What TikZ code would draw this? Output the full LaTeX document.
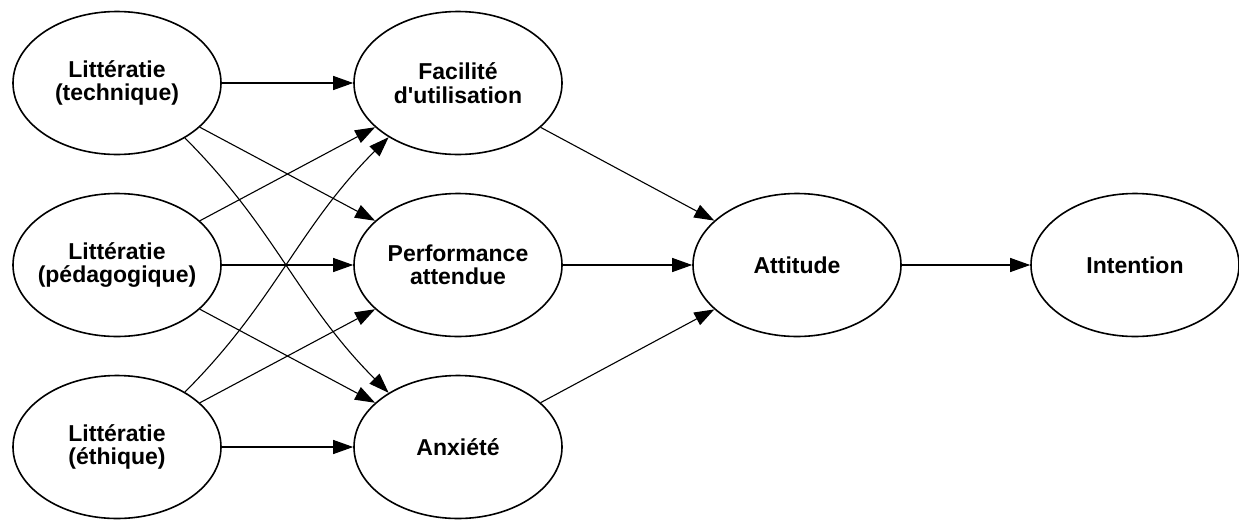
\documentclass[tikz,border=0pt]{standalone}
\usepackage{fontspec}
\setmainfont{Liberation Sans}[Ligatures=TeXOff]
\usetikzlibrary{shapes.geometric,arrows.meta}
% centred line of zero width, so the ellipse keeps its fixed size
\newcommand{\zline}[1]{\makebox[0pt]{#1}}
\begin{document}
\begin{tikzpicture}[x=1pt,y=1pt,
  construct/.style={ellipse, draw, line width=1.6pt, fill=white,
    minimum width=208pt, minimum height=143pt, inner sep=0pt,
    align=center, font=\fontsize{23}{23.5}\selectfont\bfseries},
  link/.style={line width=1.1pt, -{Triangle[length=20pt,width=14pt]}},
]
\useasboundingbox (0,0) rectangle (1239,-520);

% literacy dimensions
\node[construct] (tech) at (117,-83)  {\zline{Littératie}\\\zline{(technique)}};
\node[construct] (peda) at (117,-265) {\zline{Littératie}\\\zline{(pédagogique)}};
\node[construct] (eth)  at (117,-447) {\zline{Littératie}\\\zline{(éthique)}};

% perceptions
\node[construct] (fac)  at (458,-83)  {\zline{Facilité}\\\zline{d'utilisation}};
\node[construct] (perf) at (458,-265) {\zline{Performance}\\\zline{attendue}};
\node[construct] (anx)  at (458,-447) {Anxiété};

% outcomes
\node[construct] (att)  at (797,-265) {Attitude};
\node[construct] (int)  at (1135,-265) {Intention};

% literacy -> perceptions
\draw[link] (tech) -- (fac);
\draw[link] (tech) -- (perf);
\draw[link] (tech.-39) to[out=-45,in=135] (anx.142);
\draw[link] (peda) -- (fac);
\draw[link] (peda) -- (perf);
\draw[link] (peda) -- (anx);
\draw[link] (eth.39) to[out=45,in=-135] (fac.-142);
\draw[link] (eth) -- (perf);
\draw[link] (eth) -- (anx);

% perceptions -> attitude -> intention
\draw[link] (fac) -- (att);
\draw[link] (perf) -- (att);
\draw[link] (anx) -- (att);
\draw[link] (att) -- (int);
\end{tikzpicture}
\end{document}
